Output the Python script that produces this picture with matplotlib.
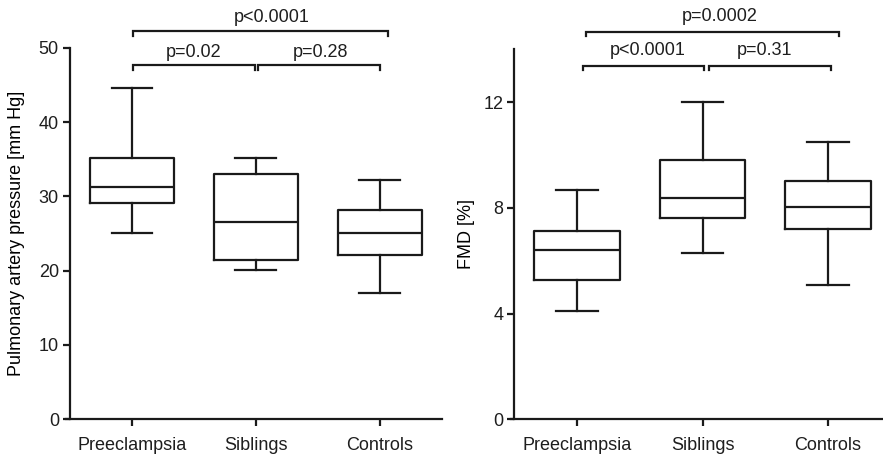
import matplotlib
matplotlib.use("Agg")
import matplotlib.pyplot as plt

plt.rcParams['font.family'] = ['Liberation Sans', 'DejaVu Sans']
plt.rcParams['font.size'] = 13
plt.rcParams['text.color'] = '#1e1e1e'
plt.rcParams['xtick.labelcolor'] = '#1e1e1e'
plt.rcParams['ytick.labelcolor'] = '#1e1e1e'

groups = ['Preeclampsia', 'Siblings', 'Controls']

# pulmonary artery pressure [mm Hg]: whisker low, Q1, median, Q3, whisker high
pap_low = [25.0, 20.1, 17.0]
pap_q1 = [29.1, 21.4, 22.1]
pap_med = [31.2, 26.5, 25.0]
pap_q3 = [35.1, 33.0, 28.1]
pap_high = [44.6, 35.1, 32.2]

# flow-mediated dilation [%]
fmd_low = [4.11, 6.28, 5.07]
fmd_q1 = [5.26, 7.61, 7.22]
fmd_med = [6.42, 8.38, 8.05]
fmd_q3 = [7.13, 9.80, 9.00]
fmd_high = [8.67, 12.0, 10.48]

pap_pvals = ['p=0.02', 'p=0.28', 'p<0.0001']
fmd_pvals = ['p<0.0001', 'p=0.31', 'p=0.0002']

LW = 1.6
INK = '#1a1a1a'


def stats(low, q1, med, q3, high):
    return [dict(whislo=a, q1=b, med=c, q3=d, whishi=e, fliers=[])
            for a, b, c, d, e in zip(low, q1, med, q3, high)]


def bracket(ax, x0, x1, y, drop, text, tx, ty):
    ax.plot([x0, x0, x1, x1], [y - drop, y, y, y - drop], color=INK,
            lw=LW, clip_on=False, solid_joinstyle='miter')
    ax.text(tx, ty, text, ha='center', va='center')


def style(ax, ylim, yticks, ylabel, labelpad):
    ax.set_xlim(-0.5, 2.5)
    ax.set_ylim(*ylim)
    ax.set_yticks(yticks)
    ax.set_xticks(range(3))
    ax.set_xticklabels(groups)
    ax.set_ylabel(ylabel, labelpad=labelpad)
    for s in ['top', 'right']:
        ax.spines[s].set_visible(False)
    for s in ['left', 'bottom']:
        ax.spines[s].set_linewidth(LW)
        ax.spines[s].set_color(INK)
    ax.spines['bottom'].set_bounds(-0.53, 2.5)
    ax.tick_params(width=LW, length=5, direction='out', color=INK)
    ax.tick_params(axis='y', pad=3)
    ax.tick_params(axis='x', pad=8)


fig = plt.figure(figsize=(8.83, 4.55), dpi=100)
ax1 = fig.add_axes([0.0793, 0.0785, 0.421, 0.8167])
ax2 = fig.add_axes([0.5825, 0.0785, 0.4264, 0.813])

props = dict(color=INK, linewidth=LW)
for ax, st in [(ax1, stats(pap_low, pap_q1, pap_med, pap_q3, pap_high)),
               (ax2, stats(fmd_low, fmd_q1, fmd_med, fmd_q3, fmd_high))]:
    ax.bxp(st, positions=range(3), widths=0.68, capwidths=0.33,
           showfliers=False, boxprops=props, whiskerprops=props,
           capprops=props, medianprops=props)

style(ax1, (0, 50), range(0, 51, 10), 'Pulmonary artery pressure [mm Hg]', 10)
style(ax2, (0, 14), [0, 4, 8, 12], 'FMD [%]', 6)

bracket(ax1, 0.01, 0.99, 47.7, 0.7, pap_pvals[0], 0.50, 49.3)
bracket(ax1, 1.02, 2.0, 47.7, 0.7, pap_pvals[1], 1.52, 49.3)
bracket(ax1, 0.01, 2.07, 52.2, 0.6, pap_pvals[2], 1.13, 54.1)

bracket(ax2, 0.05, 1.01, 13.38, 0.17, fmd_pvals[0], 0.56, 13.95)
bracket(ax2, 1.05, 2.02, 13.38, 0.17, fmd_pvals[1], 1.49, 13.95)
bracket(ax2, 0.07, 2.09, 14.65, 0.15, fmd_pvals[2], 1.135, 15.26)

fig.savefig('out.png', dpi=100)
